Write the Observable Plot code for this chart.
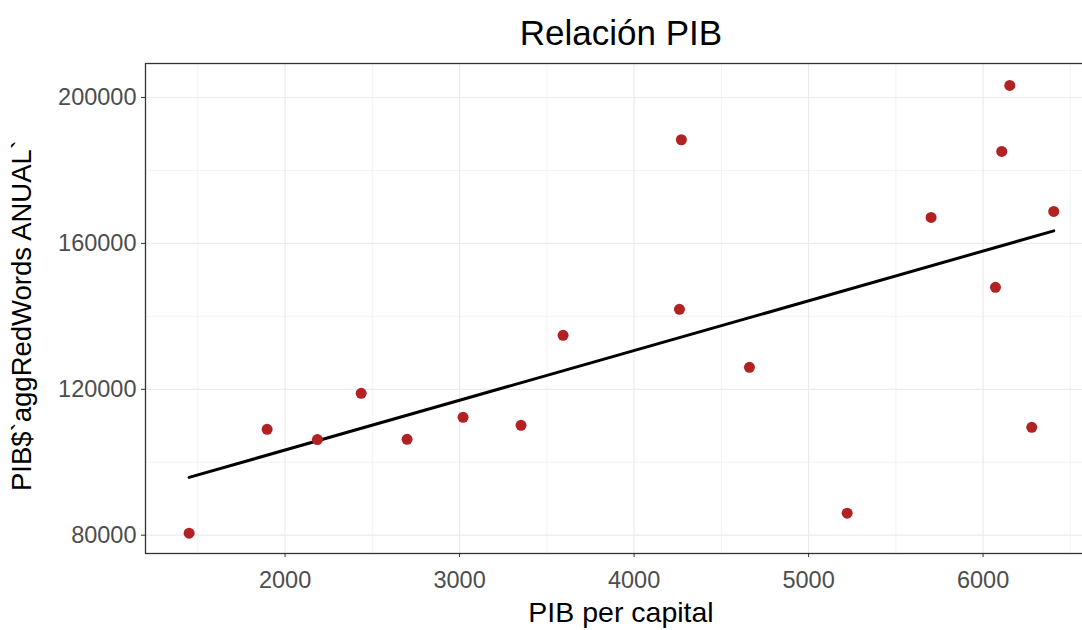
<!DOCTYPE html>
<html>
<head>
<meta charset="utf-8">
<script src="https://cdn.jsdelivr.net/npm/d3@7"></script>
<script src="https://cdn.jsdelivr.net/npm/@observablehq/plot@0.6"></script>
<style>
  body { margin: 0; background: #fff; overflow: hidden; }
  svg { font-family: "Liberation Sans", Arial, sans-serif; }
</style>
</head>
<body>
<div id="chart"></div>
<script>
const pibPerCapita = [1450, 1897, 2185, 2436, 2699, 3020, 3352, 3593, 4271, 4260, 4661, 5221, 5702, 6071, 6107, 6153, 6279, 6405];
const pibAnual = [80548, 109041, 106219, 118904, 106301, 112329, 110137, 134795, 188411, 141918, 126027, 86027, 167123, 147945, 185205, 203288, 109589, 168767];
const xTicks = [2000, 3000, 4000, 5000, 6000];
const yTicks = [80000, 120000, 160000, 200000];
const xMinor = [1500, 2500, 3500, 4500, 5500, 6500];
const yMinor = [100000, 140000, 180000];
const title = "Relación PIB";
const xLabel = "PIB per capital";
const yLabel = "PIB$`aggRedWords ANUAL`";

const data = pibPerCapita.map((x, i) => ({x, y: pibAnual[i]}));

const chart = Plot.plot({
  width: 1082,
  height: 630,
  marginLeft: 145,
  marginRight: -14,
  marginTop: 63,
  marginBottom: 77,
  style: {fontFamily: "Liberation Sans, Arial, sans-serif", background: "#fff"},
  x: {domain: [1200, 6650]},
  y: {domain: [74986, 209315]},
  marks: [
    Plot.ruleX(xMinor, {stroke: "#ebebeb", strokeWidth: 0.6}),
    Plot.ruleY(yMinor, {stroke: "#ebebeb", strokeWidth: 0.6}),
    Plot.ruleX(xTicks, {stroke: "#ebebeb", strokeWidth: 1.2}),
    Plot.ruleY(yTicks, {stroke: "#ebebeb", strokeWidth: 1.2}),
    Plot.linearRegressionY(data, {x: "x", y: "y", stroke: "black", strokeWidth: 3, ci: 0}),
    Plot.dot(data, {x: "x", y: "y", r: 5.5, fill: "#B22222", stroke: "none"}),
    Plot.frame({stroke: "#333333", strokeWidth: 1.3}),
    Plot.axisX(xTicks, {tickSize: 4, tickPadding: 14, fontSize: 23.5, color: "#4d4d4d", stroke: "#333", label: null, tickFormat: d => String(d)}),
    Plot.axisY(yTicks, {tickSize: 4, tickPadding: 5, fontSize: 23.5, color: "#4d4d4d", stroke: "#333", label: null, tickFormat: d => String(d)}),
    Plot.text([title], {frameAnchor: "top", lineAnchor: "middle", dy: -30, fontSize: 35, fill: "black"}),
    Plot.text([xLabel], {frameAnchor: "bottom", lineAnchor: "middle", dy: 59, fontSize: 28.5, fill: "black"}),
    Plot.text([yLabel], {frameAnchor: "left", lineAnchor: "middle", textAnchor: "middle", dx: -123, dy: 7, rotate: -90, fontSize: 27.5, fill: "black"})
  ]
});
document.getElementById("chart").appendChild(chart);
</script>
</body>
</html>
